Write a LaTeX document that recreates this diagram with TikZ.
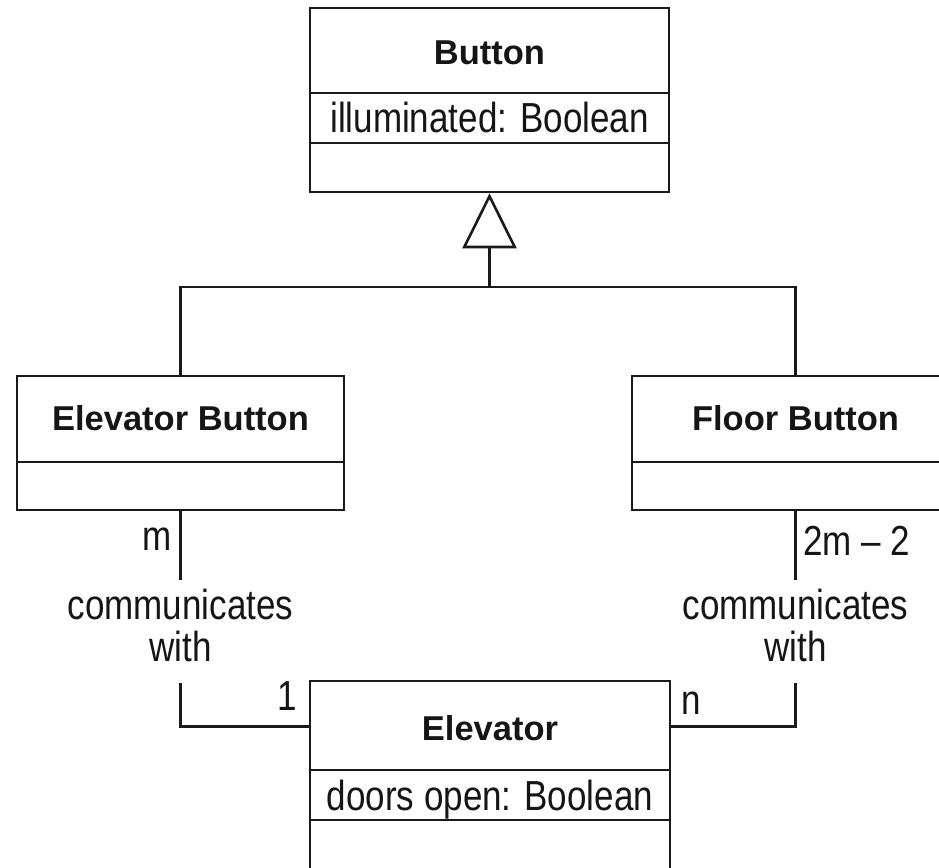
\documentclass[tikz,border=0pt]{standalone}
\usepackage{fontspec}
\setmainfont{Liberation Sans}
\usepackage{graphicx}
\usetikzlibrary{arrows.meta}
\definecolor{linec}{HTML}{1A1A1A}
\definecolor{textc}{HTML}{151515}
\newcommand\tallt[1]{\scalebox{1}[1.2]{#1}}
\begin{document}
\begin{tikzpicture}[x=1pt,y=-1pt,
  umlbox/.style={draw=linec, line width=2.6pt, rectangle, inner sep=0pt},
  divider/.style={draw=linec, line width=2.6pt},
  conn/.style={draw=linec, line width=2.6pt},
  cname/.style={font=\fontsize{34.5}{40}\selectfont\bfseries, text=textc, inner sep=0pt, anchor=base},
  attr/.style={font=\fontsize{35}{40}\selectfont, text=textc, inner sep=0pt, anchor=base},
  mult/.style={font=\fontsize{35}{40}\selectfont, text=textc, inner sep=0pt},
  assoc/.style={font=\fontsize{35}{33.3}\selectfont, text=textc, inner sep=0pt, minimum height=103pt}
]
\useasboundingbox (0,0) rectangle (939,867);
\clip (0,0) rectangle (939,867);

% Button
\node[umlbox, minimum width=359pt, minimum height=184pt] (button) at (489.5,100) {};
\draw[divider] (button.west |- 0,93) -- (button.east |- 0,93);
\draw[divider] (button.west |- 0,143) -- (button.east |- 0,143);
\node[cname] (buttonname) at (489.5,65) {Button};
\node[attr] (buttonattr) at (489.5,132) {\tallt{illuminated: Boolean}};

% Elevator Button
\node[umlbox, minimum width=327pt, minimum height=134pt] (eb) at (180.5,443) {};
\draw[divider] (eb.west |- 0,462) -- (eb.east |- 0,462);
\node[cname] (ebname) at (180.5,430) {Elevator Button};

% Floor Button
\node[umlbox, minimum width=327pt, minimum height=134pt] (fb) at (795.5,443) {};
\draw[divider] (fb.west |- 0,462) -- (fb.east |- 0,462);
\node[cname] (fbname) at (795.5,430) {Floor Button};

% Elevator
\node[umlbox, minimum width=360pt, minimum height=189pt] (elev) at (490,775.5) {};
\draw[divider] (elev.west |- 0,770) -- (elev.east |- 0,770);
\draw[divider] (elev.west |- 0,820) -- (elev.east |- 0,820);
\node[cname] (elevname) at (490,740) {Elevator};
\node[attr] (elevattr) at (490,810) {\tallt{doors open: Boolean}};

% Generalization
\coordinate (hj) at (button.south |- 0,287);
\draw[conn] (eb.north) |- (hj);
\draw[conn] (fb.north) |- (hj);
\draw[conn, -{Triangle[open, length=55pt, width=54pt]}] (hj) -- (button.south);

% Associations
\node[assoc] (lcw) at (eb.south |- 0,631.5) {\tallt{\begin{tabular}{@{}c@{}}communicates\\with\end{tabular}}};
\node[assoc] (rcw) at (fb.south |- 0,631.5) {\tallt{\begin{tabular}{@{}c@{}}communicates\\with\end{tabular}}};
\coordinate (la) at ([yshift=-47pt]elev.north west);
\coordinate (ra) at ([yshift=-47pt]elev.north east);
\draw[conn] (eb.south) -- (lcw.north);
\draw[conn] (lcw.south) |- (la);
\draw[conn] (fb.south) -- (rcw.north);
\draw[conn] (rcw.south) |- (ra);

% Multiplicities
\node[mult, anchor=base east] (mm) at (172,550) {\tallt{m}};
\node[mult, anchor=base east] (m1) at (297,710) {\tallt{1}};
\node[mult, anchor=base west] (m2) at (803,555) {\tallt{2m – 2}};
\node[mult, anchor=base west] (mn) at (681,714) {\tallt{n}};
\end{tikzpicture}
\end{document}
